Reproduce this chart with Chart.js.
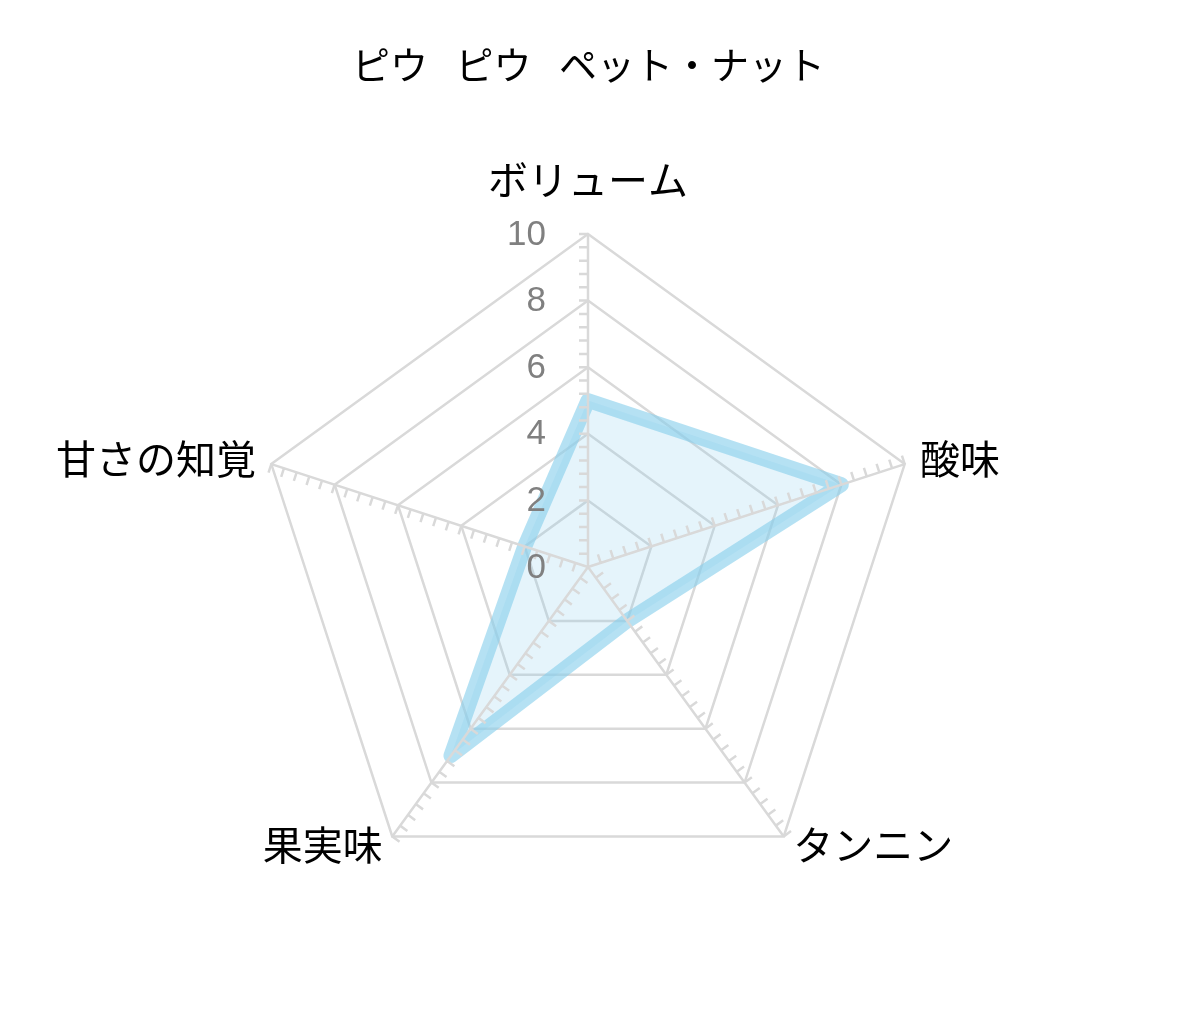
<!DOCTYPE html>
<html lang="ja">
<head>
<meta charset="utf-8">
<title>ピウ ピウ ペット・ナット</title>
<script src="https://cdn.jsdelivr.net/npm/chart.js@4.4.1/dist/chart.umd.min.js"></script>
<style>
  html, body { margin: 0; padding: 0; background: #fff; }
  #wrap { width: 1177px; height: 1031px; }
</style>
</head>
<body>
<div id="wrap"><canvas id="radarChart"></canvas></div>
<script>
// Chart data
const chartTitle = "ピウ ピウ ペット・ナット";
const categories = ["ボリューム", "酸味", "タンニン", "果実味", "甘さの知覚"];
const tasteScores = [5, 8, 2, 7, 2];
const scaleMax = 10;
const majorStep = 2;
const minorStep = 0.4;

const JP_FONT = '"Noto Sans CJK JP", "Noto Sans", sans-serif';
const NUM_FONT = '"Liberation Sans", Arial, sans-serif';
const GRID_GRAY = '#d9d9d9';

// Wider word gaps in the title (only the title is drawn before datasets)
const titleSpacing = {
    id: 'titleSpacing',
    beforeDraw(chart) {
        chart.ctx.wordSpacing = '19px';
    },
    beforeDatasetsDraw(chart) {
        chart.ctx.wordSpacing = '0px';
    }
};

// Axis spokes with minor tick marks, value labels and category labels
const axisOverlay = {
    id: 'axisOverlay',
    afterDatasetsDraw(chart) {
        const scale = chart.scales.r;
        const ctx = chart.ctx;
        const steps = Math.round(scaleMax / minorStep);

        ctx.save();
        ctx.wordSpacing = '0px';
        ctx.strokeStyle = GRID_GRAY;
        ctx.lineWidth = 2.5;
        for (let i = 0; i < categories.length; i++) {
            const end = scale.getPointPositionForValue(i, scaleMax);
            const a = scale.getIndexAngle(i) - Math.PI / 2;
            const nx = Math.sin(a), ny = -Math.cos(a);
            ctx.beginPath();
            ctx.moveTo(scale.xCenter, scale.yCenter);
            ctx.lineTo(end.x, end.y);
            for (let k = 1; k <= steps; k++) {
                const p = scale.getPointPositionForValue(i, k * minorStep);
                ctx.moveTo(p.x, p.y);
                ctx.lineTo(p.x + nx * 9, p.y + ny * 9);
            }
            ctx.stroke();
        }

        // value labels left of the top spoke
        ctx.fillStyle = '#808080';
        ctx.font = '35px ' + NUM_FONT;
        ctx.textAlign = 'right';
        ctx.textBaseline = 'middle';
        scale.ticks.forEach(t => {
            const y = scale.yCenter - scale.getDistanceFromCenterForValue(t.value);
            ctx.fillText(String(t.value), scale.xCenter - 42, y + 1);
        });

        // category labels
        ctx.fillStyle = '#000';
        ctx.font = '40px ' + JP_FONT;
        categories.forEach((label, i) => {
            const p = scale.getPointPosition(i, scale.drawingArea + 16);
            let y = p.y;
            if (p.x > scale.xCenter + 1) {
                ctx.textAlign = 'left';
            } else if (p.x < scale.xCenter - 1) {
                ctx.textAlign = 'right';
            } else {
                ctx.textAlign = 'center';
                y -= 38;
            }
            if (p.y > scale.yCenter + 100) y -= 5;
            ctx.fillText(label, p.x, y);
        });
        ctx.restore();
    }
};

const ctx = document.getElementById('radarChart').getContext('2d');

const radarChart = new Chart(ctx, {
    type: 'radar',
    data: {
        labels: categories,
        datasets: [{
            label: chartTitle,
            data: tasteScores,
            borderColor: 'rgba(135, 206, 235, 0.62)',
            backgroundColor: 'rgba(135, 206, 235, 0.22)',
            borderWidth: 15,
            borderJoinStyle: 'round',
            pointRadius: 0,
            pointHoverRadius: 0,
            fill: true
        }]
    },
    options: {
        responsive: true,
        maintainAspectRatio: false,
        animation: false,
        layout: { padding: { top: 42, bottom: 131, left: 0, right: 0 } },
        scales: {
            r: {
                min: 0,
                max: scaleMax,
                ticks: { display: false, stepSize: majorStep },
                grid: { color: GRID_GRAY, lineWidth: 2.5 },
                angleLines: { display: false },
                pointLabels: { display: false }
            }
        },
        plugins: {
            legend: { display: false },
            tooltip: { enabled: false },
            title: {
                display: true,
                text: chartTitle,
                color: '#000',
                font: { family: JP_FONT, size: 38, weight: 'normal', lineHeight: 1.2 },
                padding: { top: 0, bottom: 146.4 }
            }
        }
    },
    plugins: [titleSpacing, axisOverlay]
});
</script>
</body>
</html>
